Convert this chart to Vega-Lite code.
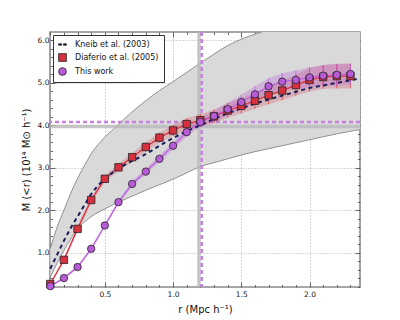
{
  "$schema": "https://vega.github.io/schema/vega-lite/v6.json",
  "width": 310,
  "height": 255,
  "autosize": "none",
  "padding": {"left": 50, "top": 32, "right": 40, "bottom": 33},
  "background": "white",
  "resolve": {"axis": {"x": "independent", "y": "independent"}},
  "config": {
    "font": "DejaVu Sans",
    "view": {"stroke": "#8a8a8a", "strokeWidth": 1.6},
    "axis": {
      "domain": false,
      "labelFont": "DejaVu Sans",
      "labelFontSize": 7.5,
      "labelColor": "#222",
      "labelOverlap": false,
      "tickColor": "#444",
      "tickWidth": 0.8,
      "gridColor": "#999",
      "gridDash": [1, 2],
      "gridWidth": 0.8,
      "titleFont": "DejaVu Sans",
      "titleFontWeight": "normal",
      "titleColor": "#111"
    }
  },
  "datasets": {
    "grey": [
      {"r": 0.1, "lo": 0.42, "hi": 1.1},
      {"r": 0.15, "lo": 0.75, "hi": 1.6},
      {"r": 0.2, "lo": 1.05, "hi": 2.0},
      {"r": 0.25, "lo": 1.32, "hi": 2.4},
      {"r": 0.3, "lo": 1.56, "hi": 2.75},
      {"r": 0.35, "lo": 1.72, "hi": 3.05},
      {"r": 0.4, "lo": 1.85, "hi": 3.33},
      {"r": 0.5, "lo": 2.03, "hi": 3.72},
      {"r": 0.6, "lo": 2.19, "hi": 4.02},
      {"r": 0.7, "lo": 2.33, "hi": 4.32},
      {"r": 0.8, "lo": 2.47, "hi": 4.58},
      {"r": 0.9, "lo": 2.6, "hi": 4.82},
      {"r": 1.0, "lo": 2.73, "hi": 5.03},
      {"r": 1.1, "lo": 2.88, "hi": 5.25},
      {"r": 1.2, "lo": 3.03, "hi": 5.47},
      {"r": 1.3, "lo": 3.12, "hi": 5.68},
      {"r": 1.4, "lo": 3.21, "hi": 5.88},
      {"r": 1.5, "lo": 3.3, "hi": 6.03},
      {"r": 1.6, "lo": 3.38, "hi": 6.15},
      {"r": 1.7, "lo": 3.45, "hi": 6.25},
      {"r": 1.8, "lo": 3.52, "hi": 6.35},
      {"r": 1.9, "lo": 3.59, "hi": 6.45},
      {"r": 2.0, "lo": 3.66, "hi": 6.55},
      {"r": 2.1, "lo": 3.73, "hi": 6.64},
      {"r": 2.2, "lo": 3.8, "hi": 6.72},
      {"r": 2.3, "lo": 3.86, "hi": 6.8},
      {"r": 2.37, "lo": 3.9, "hi": 6.85}
    ],
    "kneib": [
      {"r": 0.1, "m": 0.62},
      {"r": 0.15, "m": 0.95},
      {"r": 0.2, "m": 1.28},
      {"r": 0.25, "m": 1.58},
      {"r": 0.3, "m": 1.85},
      {"r": 0.35, "m": 2.12},
      {"r": 0.4, "m": 2.38},
      {"r": 0.5, "m": 2.74},
      {"r": 0.6, "m": 2.98},
      {"r": 0.7, "m": 3.16},
      {"r": 0.8, "m": 3.32},
      {"r": 0.9, "m": 3.52},
      {"r": 1.0, "m": 3.7},
      {"r": 1.1, "m": 3.86},
      {"r": 1.2, "m": 4.0},
      {"r": 1.3, "m": 4.15},
      {"r": 1.4, "m": 4.28},
      {"r": 1.5, "m": 4.4},
      {"r": 1.6, "m": 4.51},
      {"r": 1.7, "m": 4.61},
      {"r": 1.8, "m": 4.7},
      {"r": 1.9, "m": 4.79},
      {"r": 2.0, "m": 4.88},
      {"r": 2.1, "m": 4.94},
      {"r": 2.2, "m": 5.0},
      {"r": 2.3, "m": 5.06},
      {"r": 2.37, "m": 5.11}
    ],
    "obs": [
      {"s": "Diaferio et al. (2005)", "r": 0.1, "m": 0.26, "lo": 0.23, "hi": 0.29},
      {"s": "Diaferio et al. (2005)", "r": 0.2, "m": 0.83, "lo": 0.78, "hi": 0.88},
      {"s": "Diaferio et al. (2005)", "r": 0.3, "m": 1.56, "lo": 1.5, "hi": 1.62},
      {"s": "Diaferio et al. (2005)", "r": 0.4, "m": 2.24, "lo": 2.17, "hi": 2.31},
      {"s": "Diaferio et al. (2005)", "r": 0.5, "m": 2.74, "lo": 2.66, "hi": 2.82},
      {"s": "Diaferio et al. (2005)", "r": 0.6, "m": 3.01, "lo": 2.92, "hi": 3.1},
      {"s": "Diaferio et al. (2005)", "r": 0.7, "m": 3.25, "lo": 3.15, "hi": 3.35},
      {"s": "Diaferio et al. (2005)", "r": 0.8, "m": 3.49, "lo": 3.38, "hi": 3.6},
      {"s": "Diaferio et al. (2005)", "r": 0.9, "m": 3.71, "lo": 3.59, "hi": 3.83},
      {"s": "Diaferio et al. (2005)", "r": 1.0, "m": 3.88, "lo": 3.75, "hi": 4.01},
      {"s": "Diaferio et al. (2005)", "r": 1.1, "m": 4.03, "lo": 3.89, "hi": 4.17},
      {"s": "Diaferio et al. (2005)", "r": 1.2, "m": 4.12, "lo": 3.97, "hi": 4.27},
      {"s": "Diaferio et al. (2005)", "r": 1.3, "m": 4.21, "lo": 4.05, "hi": 4.37},
      {"s": "Diaferio et al. (2005)", "r": 1.4, "m": 4.35, "lo": 4.18, "hi": 4.52},
      {"s": "Diaferio et al. (2005)", "r": 1.5, "m": 4.46, "lo": 4.28, "hi": 4.64},
      {"s": "Diaferio et al. (2005)", "r": 1.6, "m": 4.58, "lo": 4.39, "hi": 4.77},
      {"s": "Diaferio et al. (2005)", "r": 1.7, "m": 4.71, "lo": 4.5, "hi": 4.92},
      {"s": "Diaferio et al. (2005)", "r": 1.8, "m": 4.82, "lo": 4.59, "hi": 5.05},
      {"s": "Diaferio et al. (2005)", "r": 1.9, "m": 4.95, "lo": 4.7, "hi": 5.2},
      {"s": "Diaferio et al. (2005)", "r": 2.0, "m": 5.07, "lo": 4.8, "hi": 5.34},
      {"s": "Diaferio et al. (2005)", "r": 2.1, "m": 5.14, "lo": 4.86, "hi": 5.42},
      {"s": "Diaferio et al. (2005)", "r": 2.2, "m": 5.16, "lo": 4.87, "hi": 5.45},
      {"s": "Diaferio et al. (2005)", "r": 2.3, "m": 5.16, "lo": 4.87, "hi": 5.45},
      {"s": "This work", "r": 0.1, "m": 0.21, "lo": 0.19, "hi": 0.23},
      {"s": "This work", "r": 0.2, "m": 0.4, "lo": 0.37, "hi": 0.43},
      {"s": "This work", "r": 0.3, "m": 0.66, "lo": 0.62, "hi": 0.7},
      {"s": "This work", "r": 0.4, "m": 1.09, "lo": 1.05, "hi": 1.13},
      {"s": "This work", "r": 0.5, "m": 1.64, "lo": 1.59, "hi": 1.69},
      {"s": "This work", "r": 0.6, "m": 2.19, "lo": 2.14, "hi": 2.24},
      {"s": "This work", "r": 0.7, "m": 2.62, "lo": 2.56, "hi": 2.68},
      {"s": "This work", "r": 0.8, "m": 2.91, "lo": 2.84, "hi": 2.98},
      {"s": "This work", "r": 0.9, "m": 3.21, "lo": 3.13, "hi": 3.29},
      {"s": "This work", "r": 1.0, "m": 3.52, "lo": 3.43, "hi": 3.61},
      {"s": "This work", "r": 1.1, "m": 3.84, "lo": 3.74, "hi": 3.94},
      {"s": "This work", "r": 1.2, "m": 4.08, "lo": 3.97, "hi": 4.19},
      {"s": "This work", "r": 1.3, "m": 4.22, "lo": 4.09, "hi": 4.35},
      {"s": "This work", "r": 1.4, "m": 4.38, "lo": 4.23, "hi": 4.53},
      {"s": "This work", "r": 1.5, "m": 4.55, "lo": 4.38, "hi": 4.72},
      {"s": "This work", "r": 1.6, "m": 4.73, "lo": 4.54, "hi": 4.92},
      {"s": "This work", "r": 1.7, "m": 4.92, "lo": 4.73, "hi": 5.11},
      {"s": "This work", "r": 1.8, "m": 5.03, "lo": 4.83, "hi": 5.23},
      {"s": "This work", "r": 1.9, "m": 5.07, "lo": 4.85, "hi": 5.29},
      {"s": "This work", "r": 2.0, "m": 5.13, "lo": 4.89, "hi": 5.37},
      {"s": "This work", "r": 2.1, "m": 5.17, "lo": 4.92, "hi": 5.42},
      {"s": "This work", "r": 2.2, "m": 5.19, "lo": 4.94, "hi": 5.44},
      {"s": "This work", "r": 2.3, "m": 5.21, "lo": 4.96, "hi": 5.46}
    ]
  },
  "layer": [
    {
      "data": {"name": "grey"},
      "mark": {"type": "area", "color": "#d9d9d9", "opacity": 1, "clip": true, "interpolate": "monotone"},
      "encoding": {
        "x": {
          "field": "r", "type": "quantitative",
          "scale": {"domain": [0.098, 2.37], "nice": false, "zero": false},
          "axis": {
            "title": "r (Mpc h⁻¹)",
            "titleFontSize": 10,
            "titlePadding": 4,
            "values": [0.1, 0.2, 0.3, 0.4, 0.5, 0.6, 0.7, 0.8, 0.9, 1.0, 1.1, 1.2, 1.3, 1.4, 1.5, 1.6, 1.7, 1.8, 1.9, 2.0, 2.1, 2.2, 2.3],
            "labelExpr": "abs(datum.value*2-round(datum.value*2))<0.01 ? format(datum.value,'.1f') : ''",
            "gridColor": {"condition": {"test": "abs(datum.value*2-round(datum.value*2))<0.01", "value": "#999"}, "value": "transparent"},
            "tickSize": {"condition": {"test": "abs(datum.value*2-round(datum.value*2))<0.01", "value": -5}, "value": -2.5},
            "labelPadding": 8,
            "labelFlush": false
          }
        },
        "y": {
          "field": "hi", "type": "quantitative",
          "scale": {"domain": [0.19, 6.2], "nice": false, "zero": false},
          "axis": {
            "title": "M (<r) (10¹⁴ M⊙ h⁻¹)",
            "titleFontSize": 10,
            "titlePadding": 6,
            "values": [0.2, 0.4, 0.6, 0.8, 1.0, 1.2, 1.4, 1.6, 1.8, 2.0, 2.2, 2.4, 2.6, 2.8, 3.0, 3.2, 3.4, 3.6, 3.8, 4.0, 4.2, 4.4, 4.6, 4.8, 5.0, 5.2, 5.4, 5.6, 5.8, 6.0],
            "labelExpr": "abs(datum.value-round(datum.value))<0.01 ? format(datum.value,'.1f') : ''",
            "gridColor": {"condition": {"test": "abs(datum.value-round(datum.value))<0.01", "value": "#999"}, "value": "transparent"},
            "tickSize": {"condition": {"test": "abs(datum.value-round(datum.value))<0.01", "value": -5}, "value": -2.5},
            "labelPadding": 6,
            "labelFlush": false
          }
        },
        "y2": {"field": "lo"}
      }
    },
    {
      "data": {"name": "grey"},
      "mark": {"type": "line", "color": "#7a7a7a", "strokeWidth": 0.8, "clip": true, "interpolate": "monotone"},
      "encoding": {
        "x": {"field": "r", "type": "quantitative", "axis": {"orient": "top", "title": null, "labels": false, "grid": false,
          "values": [0.1, 0.2, 0.3, 0.4, 0.5, 0.6, 0.7, 0.8, 0.9, 1.0, 1.1, 1.2, 1.3, 1.4, 1.5, 1.6, 1.7, 1.8, 1.9, 2.0, 2.1, 2.2, 2.3],
          "tickSize": {"condition": {"test": "abs(datum.value*2-round(datum.value*2))<0.01", "value": -5}, "value": -2.5}}},
        "y": {"field": "hi", "type": "quantitative", "axis": {"orient": "right", "title": null, "labels": false, "grid": false,
          "values": [0.2, 0.4, 0.6, 0.8, 1.0, 1.2, 1.4, 1.6, 1.8, 2.0, 2.2, 2.4, 2.6, 2.8, 3.0, 3.2, 3.4, 3.6, 3.8, 4.0, 4.2, 4.4, 4.6, 4.8, 5.0, 5.2, 5.4, 5.6, 5.8, 6.0],
          "tickSize": {"condition": {"test": "abs(datum.value-round(datum.value))<0.01", "value": -5}, "value": -2.5}}}
      }
    },
    {
      "data": {"name": "grey"},
      "mark": {"type": "line", "color": "#7a7a7a", "strokeWidth": 0.8, "clip": true, "interpolate": "monotone"},
      "encoding": {"x": {"field": "r", "type": "quantitative", "axis": null}, "y": {"field": "lo", "type": "quantitative", "axis": null}}
    },
    {
      "data": {"values": [{"v": 3.97}]},
      "mark": {"type": "rule", "color": "#b8b8b8", "strokeWidth": 3.5, "opacity": 0.8},
      "encoding": {"y": {"field": "v", "type": "quantitative", "axis": null}}
    },
    {
      "data": {"values": [{"v": 1.19}]},
      "mark": {"type": "rule", "color": "#b8b8b8", "strokeWidth": 3.5, "opacity": 0.8},
      "encoding": {"x": {"field": "v", "type": "quantitative", "axis": null}}
    },
    {
      "data": {"values": [{"v": 4.08}]},
      "mark": {"type": "rule", "color": "#c77fe0", "strokeWidth": 2.5, "strokeDash": [4, 3]},
      "encoding": {"y": {"field": "v", "type": "quantitative", "axis": null}}
    },
    {
      "data": {"values": [{"v": 1.21}]},
      "mark": {"type": "rule", "color": "#c77fe0", "strokeWidth": 2.5, "strokeDash": [4, 3]},
      "encoding": {"x": {"field": "v", "type": "quantitative", "axis": null}}
    },
    {
      "data": {"name": "obs"},
      "transform": [{"filter": "datum.s === 'Diaferio et al. (2005)'"}],
      "mark": {"type": "area", "color": "#d84a5c", "opacity": 0.28},
      "encoding": {"x": {"field": "r", "type": "quantitative", "axis": null}, "y": {"field": "hi", "type": "quantitative", "axis": null}, "y2": {"field": "lo"}}
    },
    {
      "data": {"name": "obs"},
      "transform": [{"filter": "datum.s === 'This work'"}],
      "mark": {"type": "area", "color": "#b65cd8", "opacity": 0.3},
      "encoding": {"x": {"field": "r", "type": "quantitative", "axis": null}, "y": {"field": "hi", "type": "quantitative", "axis": null}, "y2": {"field": "lo"}}
    },
    {
      "data": {"name": "obs"},
      "transform": [{"filter": "datum.s === 'Diaferio et al. (2005)'"}],
      "mark": {"type": "rule", "strokeWidth": 1, "opacity": 0.7, "color": "#e0303f"},
      "encoding": {"x": {"field": "r", "type": "quantitative", "axis": null}, "y": {"field": "hi", "type": "quantitative", "axis": null}, "y2": {"field": "lo"}}
    },
    {
      "data": {"name": "obs"},
      "transform": [{"filter": "datum.s === 'This work'"}],
      "mark": {"type": "rule", "strokeWidth": 1, "opacity": 0.7, "color": "#b95ad8"},
      "encoding": {"x": {"field": "r", "type": "quantitative", "axis": null}, "y": {"field": "hi", "type": "quantitative", "axis": null}, "y2": {"field": "lo"}}
    },
    {
      "data": {"name": "obs"},
      "transform": [{"filter": "datum.s === 'Diaferio et al. (2005)'"}],
      "mark": {"type": "line", "strokeWidth": 1.3, "color": "#e0303f"},
      "encoding": {"x": {"field": "r", "type": "quantitative", "axis": null}, "y": {"field": "m", "type": "quantitative", "axis": null}}
    },
    {
      "data": {"name": "obs"},
      "transform": [{"filter": "datum.s === 'This work'"}],
      "mark": {"type": "line", "strokeWidth": 1.3, "color": "#bf5fe0"},
      "encoding": {"x": {"field": "r", "type": "quantitative", "axis": null}, "y": {"field": "m", "type": "quantitative", "axis": null}}
    },
    {
      "data": {"name": "kneib"},
      "mark": {"type": "line", "strokeWidth": 2, "strokeDash": [4, 3.5], "interpolate": "monotone", "color": "#1c1c5c"},
      "encoding": {"x": {"field": "r", "type": "quantitative", "axis": null}, "y": {"field": "m", "type": "quantitative", "axis": null}}
    },
    {
      "data": {"name": "obs"},
      "mark": {"type": "point", "filled": true, "stroke": "#222", "strokeWidth": 0.8, "opacity": 1, "size": 55},
      "encoding": {
        "x": {"field": "r", "type": "quantitative", "axis": null},
        "y": {"field": "m", "type": "quantitative", "axis": null},
        "color": {
          "field": "s", "type": "nominal",
          "scale": {"domain": ["Kneib et al. (2003)", "Diaferio et al. (2005)", "This work"], "range": ["#1c1c5c", "#d7303f", "#b95ad8"]},
          "legend": {"title": null, "orient": "top-left", "offset": 3, "padding": 5, "fillColor": "white", "strokeColor": "#333", "labelFontSize": 8, "labelFont": "DejaVu Sans", "labelColor": "#111", "symbolSize": 60, "symbolStrokeColor": "#222", "symbolStrokeWidth": 0.8, "rowPadding": 3, "labelOffset": 8, "cornerRadius": 0}
        },
        "shape": {
          "field": "s", "type": "nominal",
          "scale": {"domain": ["Kneib et al. (2003)", "Diaferio et al. (2005)", "This work"], "range": ["M-1,-0.18H-0.25V0.18H-1Z M0.25,-0.18H1V0.18H0.25Z", "square", "circle"]},
          "legend": {"title": null, "orient": "top-left", "offset": 3, "padding": 5, "fillColor": "white", "strokeColor": "#333", "labelFontSize": 8, "labelFont": "DejaVu Sans", "labelColor": "#111", "symbolSize": 60, "symbolStrokeColor": "#222", "symbolStrokeWidth": 0.8, "rowPadding": 3, "labelOffset": 8, "cornerRadius": 0}
        }
      }
    }
  ]
}
